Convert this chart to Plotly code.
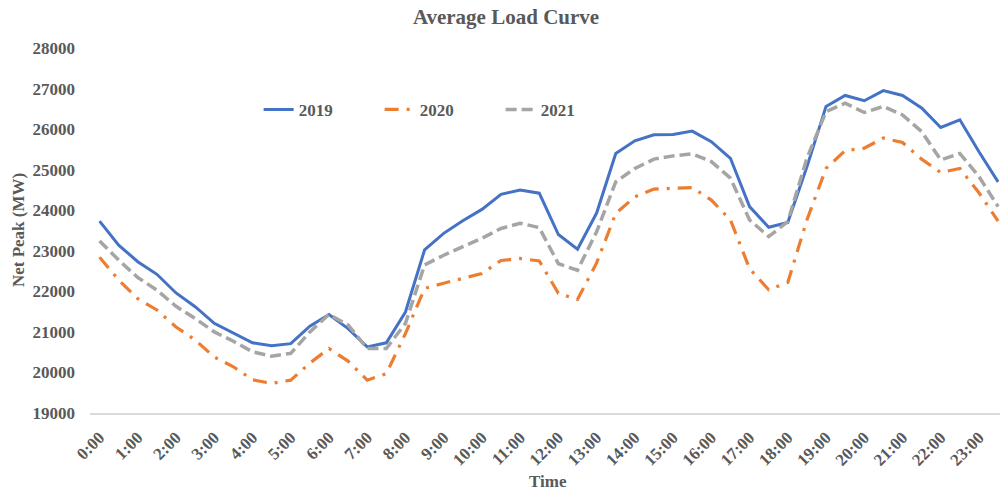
import plotly.graph_objects as go

times = ["0:00", "0:30", "1:00", "1:30", "2:00", "2:30", "3:00", "3:30",
         "4:00", "4:30", "5:00", "5:30", "6:00", "6:30", "7:00", "7:30",
         "8:00", "8:30", "9:00", "9:30", "10:00", "10:30", "11:00", "11:30",
         "12:00", "12:30", "13:00", "13:30", "14:00", "14:30", "15:00", "15:30",
         "16:00", "16:30", "17:00", "17:30", "18:00", "18:30", "19:00", "19:30",
         "20:00", "20:30", "21:00", "21:30", "22:00", "22:30", "23:00", "23:30"]

hour_labels = ["0:00", "1:00", "2:00", "3:00", "4:00", "5:00", "6:00", "7:00",
               "8:00", "9:00", "10:00", "11:00", "12:00", "13:00", "14:00", "15:00",
               "16:00", "17:00", "18:00", "19:00", "20:00", "21:00", "22:00", "23:00"]

y2019 = [23730, 23140, 22730, 22420, 21960, 21620, 21210, 20960, 20730, 20660,
         20710, 21140, 21430, 21080, 20630, 20730, 21490, 23020, 23430, 23740,
         24020, 24390, 24500, 24420, 23400, 23040, 23930, 25400, 25710, 25860,
         25870, 25950, 25690, 25280, 24090, 23580, 23700, 25070, 26560, 26830,
         26700, 26950, 26830, 26520, 26040, 26230, 25440, 24700]

y2020 = [22840, 22280, 21820, 21540, 21120, 20800, 20380, 20140, 19820, 19730,
         19810, 20230, 20590, 20280, 19810, 19970, 20960, 22070, 22200, 22320,
         22440, 22760, 22810, 22750, 21950, 21800, 22700, 23920, 24330, 24520,
         24540, 24560, 24250, 23760, 22560, 22040, 22220, 23760, 25030, 25470,
         25530, 25780, 25670, 25260, 24930, 25030, 24430, 23730]

y2021 = [23240, 22770, 22340, 22030, 21630, 21330, 21000, 20770, 20510, 20400,
         20470, 21000, 21430, 21170, 20590, 20590, 21210, 22650, 22890, 23100,
         23310, 23550, 23680, 23570, 22680, 22520, 23470, 24700, 25030, 25260,
         25340, 25390, 25200, 24790, 23760, 23350, 23720, 25280, 26430, 26640,
         26410, 26560, 26350, 25940, 25240, 25400, 24830, 24090]

FONT = "Liberation Serif"
TXT = "#595959"

W, H = 1000, 495
PL, PR, PT, PB = 90, 1000, 48.2, 412.7  # plot box in page px


def px_x(page_x):
    return (page_x - PL) / (PR - PL)


def px_y(page_y):
    return (PB - page_y) / (PB - PT)


fig = go.Figure()
fig.add_trace(go.Scatter(x=times, y=y2019, name="2019", mode="lines",
                         line=dict(color="#4472C4", width=3)))
fig.add_trace(go.Scatter(x=times, y=y2020, name="2020", mode="lines",
                         line=dict(color="#ED7D31", width=3.2, dash="14px,8px,3px,8px")))
fig.add_trace(go.Scatter(x=times, y=y2021, name="2021", mode="lines",
                         line=dict(color="#A5A5A5", width=3.5, dash="11px,5px")))

fig.update_layout(
    width=W, height=H,
    margin=dict(l=PL, r=W - PR, t=PT, b=H - PB),
    paper_bgcolor="white", plot_bgcolor="white",
    title=dict(text="Average Load Curve", x=506 / W, xanchor="center",
               xref="container", y=1 - 17 / H, yref="container", yanchor="middle",
               font=dict(family=FONT, size=21, color=TXT, weight="bold")),
    legend=dict(orientation="h", x=px_x(255) + 0.004, xanchor="left",
                y=px_y(110), yanchor="middle",
                entrywidth=76, entrywidthmode="pixels",
                font=dict(family=FONT, size=17, color=TXT, weight="bold"),
                bgcolor="rgba(0,0,0,0)"),
    showlegend=True,
)

fig.update_xaxes(type="category", categoryorder="array", categoryarray=times,
                 range=[-0.5, 47.1], tickmode="array", tickvals=hour_labels,
                 ticktext=hour_labels, tickangle=-45, ticks="",
                 showgrid=False, zeroline=False, showline=True, automargin=False,
                 linecolor="#D9D9D9", linewidth=1.5, ticklabelstandoff=6,
                 tickfont=dict(family=FONT, size=17, color=TXT, weight="bold"))

fig.update_yaxes(range=[19000, 28000], dtick=1000, tick0=19000, showgrid=False,
                 zeroline=False, showline=False, ticks="", ticklabelstandoff=14,
                 tickformat="d", automargin=False,
                 tickfont=dict(family=FONT, size=17, color=TXT, weight="bold"))

fig.add_annotation(text="Net Peak (MW)", xref="paper", yref="paper",
                   x=px_x(18), y=px_y(230), textangle=-90,
                   showarrow=False, xanchor="center", yanchor="middle",
                   font=dict(family=FONT, size=17, color=TXT, weight="bold"))
fig.add_annotation(text="Time", xref="paper", yref="paper",
                   x=px_x(548), y=px_y(481),
                   showarrow=False, xanchor="center", yanchor="middle",
                   font=dict(family=FONT, size=17, color=TXT, weight="bold"))

fig.write_html("out.html", config={"displayModeBar": False},
               post_script="document.body.style.margin='0';document.body.style.overflow='hidden';")
